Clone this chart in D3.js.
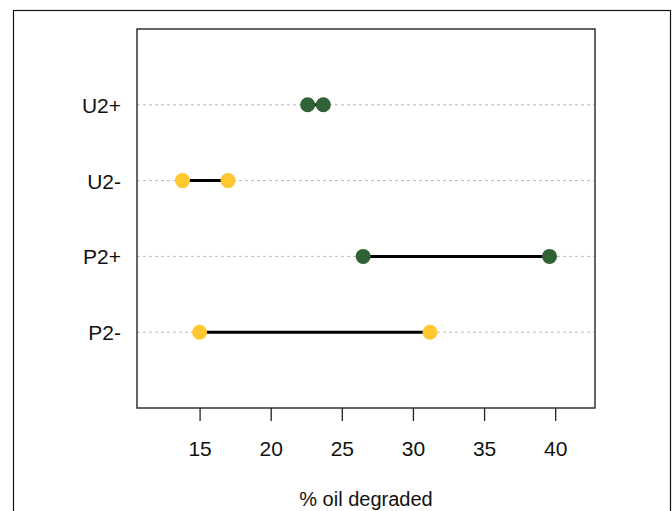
<!DOCTYPE html>
<html>
<head>
<meta charset="utf-8">
<script src="https://cdn.jsdelivr.net/npm/d3@7"></script>
<style>
  body { margin: 0; background: #fff; }
  text { font-family: "Liberation Sans", Arial, sans-serif; fill: #111; }
</style>
</head>
<body>
<svg id="vis" width="672" height="511"></svg>
<script>
// data
var groups = ["P2-", "P2+", "U2-", "U2+"];
var lowValues = [15.0, 26.5, 13.8, 22.6];
var highValues = [31.2, 39.6, 17.0, 23.7];
var groupColors = ["#FFC730", "#2F6235", "#FFC730", "#2F6235"];
var xTicks = [15, 20, 25, 30, 35, 40];

var svg = d3.select("#vis");

// outer frame
svg.append("rect")
  .attr("x", 13.5).attr("y", 10.5)
  .attr("width", 657).attr("height", 520)
  .attr("fill", "none")
  .attr("stroke", "#111")
  .attr("stroke-width", 1.2);

var plotLeft = 137, plotRight = 595, plotTop = 29, plotBottom = 408;

var x = d3.scaleLinear().domain([10.6, 42.8]).range([plotLeft, plotRight]);
var y = d3.scaleLinear().domain([0, groups.length + 1]).range([plotBottom, plotTop]);

var rows = groups.map(function (g, i) {
  return { name: g, lo: lowValues[i], hi: highValues[i], color: groupColors[i], pos: i + 1 };
});

// dotted guide lines
svg.selectAll(".guide")
  .data(rows)
  .enter().append("line")
  .attr("x1", plotLeft).attr("x2", plotRight)
  .attr("y1", function (d) { return y(d.pos); })
  .attr("y2", function (d) { return y(d.pos); })
  .attr("stroke", "#bdbdbd")
  .attr("stroke-width", 1)
  .attr("stroke-dasharray", "3,3");

// segments
svg.selectAll(".seg")
  .data(rows)
  .enter().append("line")
  .attr("x1", function (d) { return x(d.lo); })
  .attr("x2", function (d) { return x(d.hi); })
  .attr("y1", function (d) { return y(d.pos); })
  .attr("y2", function (d) { return y(d.pos); })
  .attr("stroke", "#000")
  .attr("stroke-width", 3);

// points
rows.forEach(function (d) {
  [d.lo, d.hi].forEach(function (v) {
    svg.append("circle")
      .attr("cx", x(v))
      .attr("cy", y(d.pos))
      .attr("r", 7.5)
      .attr("fill", d.color);
  });
});

// row labels
svg.selectAll(".lab")
  .data(rows)
  .enter().append("text")
  .attr("x", 121)
  .attr("y", function (d) { return y(d.pos) + 8; })
  .attr("text-anchor", "end")
  .style("font-size", "21px")
  .text(function (d) { return d.name; });

// plot box
svg.append("rect")
  .attr("x", plotLeft).attr("y", plotTop)
  .attr("width", plotRight - plotLeft).attr("height", plotBottom - plotTop)
  .attr("fill", "none")
  .attr("stroke", "#333")
  .attr("stroke-width", 1.5);

// x axis
var xAxis = svg.append("g")
  .attr("transform", "translate(0," + plotBottom + ")")
  .call(d3.axisBottom(x).tickValues(xTicks).tickSize(13).tickPadding(20));
xAxis.select(".domain").remove();
xAxis.selectAll(".tick line").attr("stroke", "#222").attr("stroke-width", 1.3);
xAxis.selectAll(".tick text")
  .style("font-size", "21px")
  .style("font-family", "'Liberation Sans', Arial, sans-serif")
  .attr("fill", "#111");

svg.append("text")
  .attr("x", (plotLeft + plotRight) / 2)
  .attr("y", 506)
  .attr("text-anchor", "middle")
  .style("font-size", "20px")
  .text("% oil degraded");
</script>
</body>
</html>
